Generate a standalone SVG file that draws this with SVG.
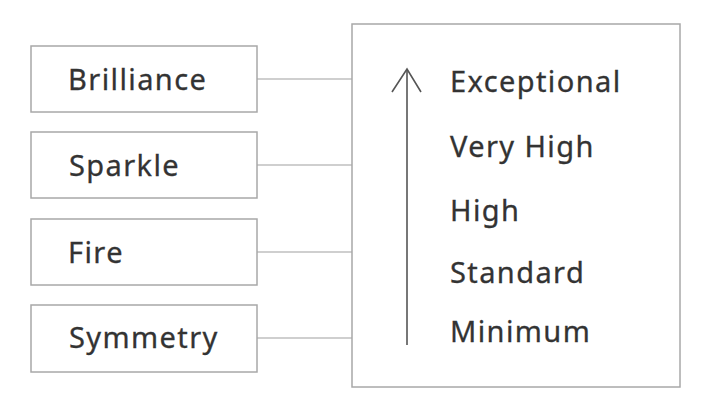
<svg xmlns="http://www.w3.org/2000/svg" width="710" height="412" viewBox="0 0 710 412">
<defs>
<style>
.box{fill:#fff;stroke:#a8a8a8;stroke-width:1.5}
.conn{stroke:#a0a0a0;stroke-width:1.2;fill:none}
.lbl{font-family:"Noto Sans","Open Sans",sans-serif;font-size:29px;font-weight:400;fill:#333;letter-spacing:1.4px;stroke:#333;stroke-width:0.3px}
.arr{stroke:#555;stroke-width:1.6;fill:none}
</style>
</defs>
<rect width="710" height="412" fill="#fff"/>
<g id="connectors">
<line class="conn" x1="257" y1="79" x2="352" y2="79"/>
<line class="conn" x1="257" y1="165" x2="352" y2="165"/>
<line class="conn" x1="257" y1="252" x2="352" y2="252"/>
<line class="conn" x1="257" y1="338" x2="352" y2="338"/>
</g>
<g id="brilliance"><rect class="box" x="31" y="46" width="226" height="66"/><text class="lbl" x="68" y="90">Brilliance</text></g>
<g id="sparkle"><rect class="box" x="31" y="132" width="226" height="66"/><text class="lbl" x="69" y="176">Sparkle</text></g>
<g id="fire"><rect class="box" x="31" y="219" width="226" height="66"/><text class="lbl" x="68" y="263">Fire</text></g>
<g id="symmetry"><rect class="box" x="31" y="305" width="226" height="67"/><text class="lbl" x="69" y="348">Symmetry</text></g>
<g id="grades">
<rect class="box" x="352" y="24" width="328" height="363"/>
<line class="arr" x1="407" y1="70" x2="407" y2="345"/>
<polyline class="arr" points="392,92 407,69 421,92"/>
<text class="lbl" x="450" y="92">Exceptional</text>
<text class="lbl" x="450" y="157">Very High</text>
<text class="lbl" x="450" y="221">High</text>
<text class="lbl" x="450" y="283">Standard</text>
<text class="lbl" x="450" y="342">Minimum</text>
</g>
</svg>
